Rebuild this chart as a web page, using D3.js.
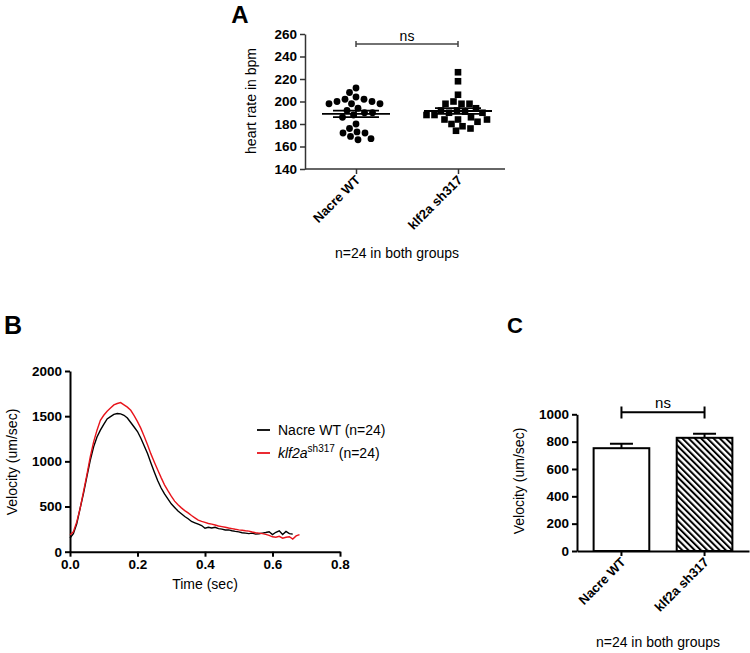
<!DOCTYPE html>
<html><head><meta charset="utf-8">
<script src="https://cdn.jsdelivr.net/npm/d3@7"></script>
<style>body{margin:0;background:#fff} svg{display:block} text{font-family:"Liberation Sans",Arial,sans-serif;fill:#000}</style>
</head><body><svg id="c" width="750" height="653"></svg>
<script>
// ---------- data ----------
const groups = ["Nacre WT", "klf2a sh317"];
const heartWT  = [212,208,204,202,202,200,200,198,198,198,194,192,190,190,188,186,180,176,173,172,172,169,167,166];
const heartKlf = [226,218,206,200,198,198,198,194,192,192,191,190,190,188,188,186,184,184,184,182,180,178,176,174];
const heartTicks = [140,160,180,200,220,240,260];

const sampleStep = 0.01; // seconds between samples
const velWT  = [150,200,310,480,645,830,1010,1160,1270,1345,1410,1470,1495,1520,1530,1525,1510,1480,1430,1380,1330,1255,1170,1085,980,880,785,705,640,585,530,490,450,420,390,365,335,320,305,290,260,270,262,270,255,250,240,242,232,225,220,210,205,200,205,195,198,205,212,220,190,215,232,190,225,200,195];
const velKlf = [185,220,330,480,665,850,1050,1215,1345,1455,1510,1555,1590,1625,1640,1650,1625,1600,1565,1505,1440,1365,1275,1180,1080,990,905,820,740,675,615,560,520,485,455,430,400,375,350,335,325,312,305,295,285,278,270,262,255,248,242,238,232,228,218,210,205,200,192,180,165,160,170,150,160,165,140,175,190];
const timeTicks = [0, 0.2, 0.4, 0.6, 0.8];
const velTicks = [0, 500, 1000, 1500, 2000];
const legendNames = ["Nacre WT", "klf2a"];

const barMeans = [752, 828];
const barSEM = [32, 30];
const barTicks = [0, 200, 400, 600, 800, 1000];

// ---------- drawing ----------
const svg = d3.select("#c");
const defs = svg.append("defs");
const pat = defs.append("pattern").attr("id","hatch").attr("patternUnits","userSpaceOnUse")
  .attr("width",4.4).attr("height",10).attr("patternTransform","rotate(-45)");
pat.append("rect").attr("width",4.4).attr("height",10).attr("fill","#fff");
pat.append("line").attr("x1",1).attr("x2",1).attr("y1",0).attr("y2",10).attr("stroke","#000").attr("stroke-width",2);

function styleAxis(g, w, col) {
  g.select(".domain").attr("stroke", col).attr("stroke-width", w);
  g.selectAll(".tick line").attr("stroke", col).attr("stroke-width", w);
  g.selectAll(".tick text").attr("font-weight","bold").attr("font-size",13.5).attr("fill","#000")
    .attr("font-family",'"Liberation Sans",Arial,sans-serif');
}
const fmtInt = d3.format("d");

// ===== Panel A =====
const yA = d3.scaleLinear([140,260],[169,34]);
const xA = d3.scalePoint(groups,[305,509]).padding(0.5);
const gA = svg.append("g");
gA.append("g").attr("transform","translate(305,0)")
  .call(d3.axisLeft(yA).tickValues(heartTicks).tickFormat(fmtInt).tickSize(5).tickSizeOuter(0).tickPadding(3))
  .call(g=>styleAxis(g,1.5,"#333"));
const axAx = gA.append("g").attr("transform","translate(0,169)")
  .call(d3.axisBottom(xA).tickSize(5).tickSizeOuter(0).tickFormat(""))
  .call(g=>styleAxis(g,1.5,"#333"));
axAx.select(".domain").attr("d","M305,0H505");
groups.forEach(gname=>{
  gA.append("text").attr("transform",`translate(${xA(gname)+5},${181}) rotate(-45)`)
    .attr("text-anchor","end").attr("font-weight","bold").attr("font-size",13).text(gname);
});
gA.append("text").attr("transform","translate(256,101) rotate(-90)").attr("text-anchor","middle")
  .attr("font-size",14).text("heart rate in bpm");
gA.append("text").attr("x",397).attr("y",258).attr("text-anchor","middle").attr("font-size",14).text("n=24 in both groups");
gA.append("text").attr("x",240).attr("y",23).attr("text-anchor","middle").attr("font-weight","bold").attr("font-size",24).text("A");
// ns bracket
gA.append("path").attr("d",`M${xA(groups[0])},41V47M${xA(groups[0])},44H${xA(groups[1])}M${xA(groups[1])},41V47`)
  .attr("stroke","#444").attr("stroke-width",1.5).attr("fill","none");
gA.append("text").attr("x",(xA(groups[0])+xA(groups[1]))/2).attr("y",41).attr("text-anchor","middle").attr("font-size",14).text("ns");

function swarm(values, cx, r, gap) {
  const order = values.map((v,i)=>i).sort((a,b)=>values[b]-values[a]);
  const placed = [];
  const out = new Array(values.length);
  const d2 = (2*r+gap)**2;
  for (const i of order) {
    const py = yA(values[i]);
    let best = 0;
    for (let k=0;k<400;k++){
      const cand = (k%2===0?1:-1)*Math.ceil(k/2)*0.5;
      if (placed.every(p => (cand-p.dx)**2 + (py-p.y)**2 >= d2)) { best = cand; break; }
    }
    placed.push({dx:best,y:py});
    out[i] = {x:cx+best, y:py};
  }
  return out;
}
const ptsWT = swarm(heartWT, xA(groups[0]), 3.3, 1.3);
gA.selectAll(".dw").data(ptsWT).join("circle").attr("cx",d=>d.x).attr("cy",d=>d.y).attr("r",3.4).attr("fill","#000");
const ptsK = swarm(heartKlf, xA(groups[1]), 3.2, 1.5);
gA.selectAll(".dk").data(ptsK).join("rect").attr("x",d=>d.x-3.3).attr("y",d=>d.y-3.3).attr("width",6.6).attr("height",6.6).attr("fill","#000");
[heartWT, heartKlf].forEach((vals,i)=>{
  const m = d3.mean(vals), sem = d3.deviation(vals)/Math.sqrt(vals.length);
  const cx = xA(groups[i]);
  gA.append("path").attr("d",`M${cx-34},${yA(m)}H${cx+34}M${cx-23},${yA(m+sem)}H${cx+23}M${cx-23},${yA(m-sem)}H${cx+23}M${cx},${yA(m+sem)}V${yA(m-sem)}`)
    .attr("stroke","#000").attr("stroke-width",1.8).attr("fill","none");
});

// ===== Panel B =====
const xB = d3.scaleLinear([0,0.8],[70,340]);
const yB = d3.scaleLinear([0,2000],[551.7,371]);
const gB = svg.append("g");
gB.append("g").attr("transform","translate(70,0)")
  .call(d3.axisLeft(yB).tickValues(velTicks).tickFormat(fmtInt).tickSize(5).tickSizeOuter(0).tickPadding(3))
  .call(g=>styleAxis(g,2,"#000"));
gB.append("g").attr("transform","translate(0,551.7)")
  .call(d3.axisBottom(xB).tickValues(timeTicks).tickFormat(d3.format(".1f")).tickSize(5).tickSizeOuter(0).tickPadding(3))
  .call(g=>styleAxis(g,2,"#000"));
const line = d3.line().x((d,i)=>xB(i*sampleStep)).y(d=>yB(d));
gB.append("path").datum(velWT).attr("d",line).attr("fill","none").attr("stroke","#000").attr("stroke-width",1.4);
gB.append("path").datum(velKlf).attr("d",line).attr("fill","none").attr("stroke","#e8141b").attr("stroke-width",1.4);
gB.append("text").attr("transform","translate(17,462) rotate(-90)").attr("text-anchor","middle").attr("font-size",14).text("Velocity (um/sec)");
gB.append("text").attr("x",205).attr("y",589).attr("text-anchor","middle").attr("font-size",14).text("Time (sec)");
gB.append("text").attr("x",13).attr("y",334).attr("text-anchor","middle").attr("font-weight","bold").attr("font-size",25).text("B");
// legend
gB.append("line").attr("x1",257).attr("x2",270).attr("y1",430).attr("y2",430).attr("stroke","#000").attr("stroke-width",1.8);
gB.append("text").attr("x",278).attr("y",435).attr("font-size",14).text(legendNames[0]+" (n=24)");
gB.append("line").attr("x1",257).attr("x2",270).attr("y1",453).attr("y2",453).attr("stroke","#e8141b").attr("stroke-width",1.8);
const lt = gB.append("text").attr("x",278).attr("y",458).attr("font-size",14);
lt.append("tspan").attr("font-style","italic").text(legendNames[1]);
lt.append("tspan").attr("font-size",10).attr("dy",-6).text("sh317");
lt.append("tspan").attr("dy",6).text(" (n=24)");

// ===== Panel C =====
const yC = d3.scaleLinear([0,1000],[551,414.3]);
const xC = d3.scaleBand(groups,[577,749]).paddingInner(0.33).paddingOuter(0.2);
const gC = svg.append("g");
gC.append("g").attr("transform","translate(577,0)")
  .call(d3.axisLeft(yC).tickValues(barTicks).tickFormat(fmtInt).tickSize(5).tickSizeOuter(0).tickPadding(3))
  .call(g=>styleAxis(g,2,"#000"));
gC.append("g").attr("transform","translate(0,551)")
  .call(d3.axisBottom(xC).tickSize(5).tickSizeOuter(0).tickFormat(""))
  .call(g=>styleAxis(g,2,"#000"));
gC.selectAll(".bar").data(groups).join("rect")
  .attr("x",d=>xC(d)).attr("width",xC.bandwidth())
  .attr("y",(d,i)=>yC(barMeans[i])).attr("height",(d,i)=>yC(0)-yC(barMeans[i]))
  .attr("fill",(d,i)=>i===0?"#fff":"url(#hatch)").attr("stroke","#000").attr("stroke-width",2);
groups.forEach((gname,i)=>{
  const cx = xC(gname)+xC.bandwidth()/2;
  gC.append("path").attr("d",`M${cx},${yC(barMeans[i])}V${yC(barMeans[i]+barSEM[i])}M${cx-11.5},${yC(barMeans[i]+barSEM[i])}H${cx+11.5}`)
    .attr("stroke","#000").attr("stroke-width",2).attr("fill","none");
  gC.append("text").attr("transform",`translate(${cx+5},${563}) rotate(-45)`)
    .attr("text-anchor","end").attr("font-weight","bold").attr("font-size",13).text(gname);
});
{
  const c0 = xC(groups[0])+xC.bandwidth()/2, c1 = xC(groups[1])+xC.bandwidth()/2;
  gC.append("path").attr("d",`M${c0},406.5V418.5M${c0},412.3H${c1}M${c1},406.5V418.5`).attr("stroke","#000").attr("stroke-width",2).attr("fill","none");
  gC.append("text").attr("x",(c0+c1)/2).attr("y",408).attr("text-anchor","middle").attr("font-size",15).text("ns");
}
gC.append("text").attr("transform","translate(524,481) rotate(-90)").attr("text-anchor","middle").attr("font-size",14).text("Velocity (um/sec)");
gC.append("text").attr("x",658).attr("y",647).attr("text-anchor","middle").attr("font-size",14).text("n=24 in both groups");
gC.append("text").attr("x",515).attr("y",333).attr("text-anchor","middle").attr("font-weight","bold").attr("font-size",22).text("C");
</script></body></html>
